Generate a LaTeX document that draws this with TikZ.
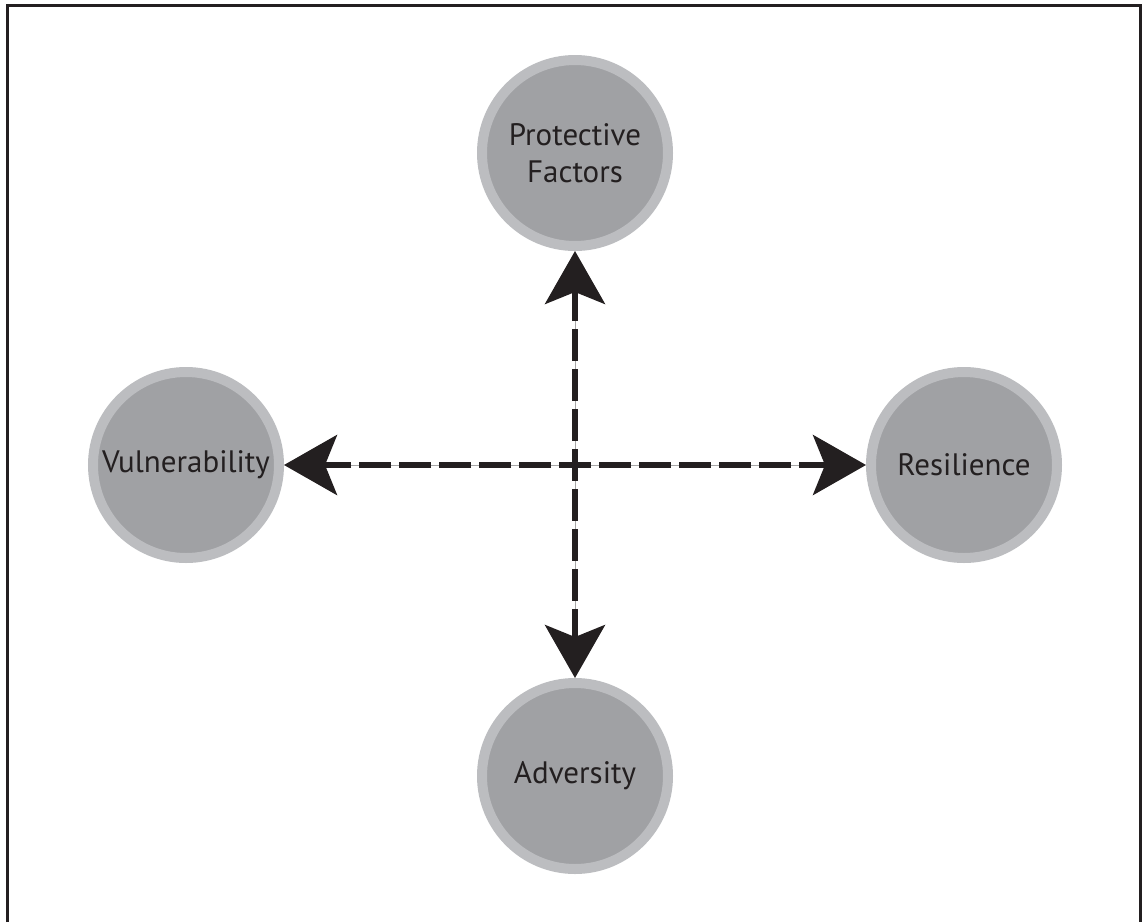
\documentclass[tikz,border=0pt]{standalone}
\usepackage{fontspec}
\setmainfont{PT Sans}
\usetikzlibrary{arrows.meta}
\definecolor{ringgrey}{HTML}{BCBDC0}
\definecolor{innergrey}{HTML}{A0A1A4}
\definecolor{inkdark}{HTML}{231F20}
\tikzset{
  factor/.style={circle, draw=ringgrey, line width=10pt, fill=innergrey,
    inner sep=0pt, minimum size=186pt, align=center, text=inkdark,
    font=\fontsize{31}{37}\selectfont},
  thinline/.style={draw=gray!70, line width=1pt},
  dashline/.style={draw=inkdark, line width=5.5pt, dash pattern=on 32pt off 8pt, dash phase=16pt,
    -{Stealth[length=53pt, width=60pt, inset=12pt]}},
  frameline/.style={draw=inkdark, line width=3pt}
}
\begin{document}
\begin{tikzpicture}[x=1pt,y=-1pt]
\useasboundingbox (0,0) rectangle (1144,922);
\draw[frameline] (7.5,922) -- (7.5,5.5) -- (1140.5,5.5) -- (1140.5,922);
\node[factor] (p) at (575,153) {Protective\\Factors};
\node[factor] (v) at (186,465) {Vulnerability};
\node[factor] (r) at (964,465) {Resilience};
\node[factor] (a) at (575,776) {Adversity};
\coordinate (c) at (575,465);
\foreach \t in {p,v,r,a}{
  \draw[thinline, shorten >=40pt] (c) -- (\t);
}
\foreach \t in {p,v,r,a}{
  \draw[dashline] (c) -- (\t);
}
\end{tikzpicture}
\end{document}
